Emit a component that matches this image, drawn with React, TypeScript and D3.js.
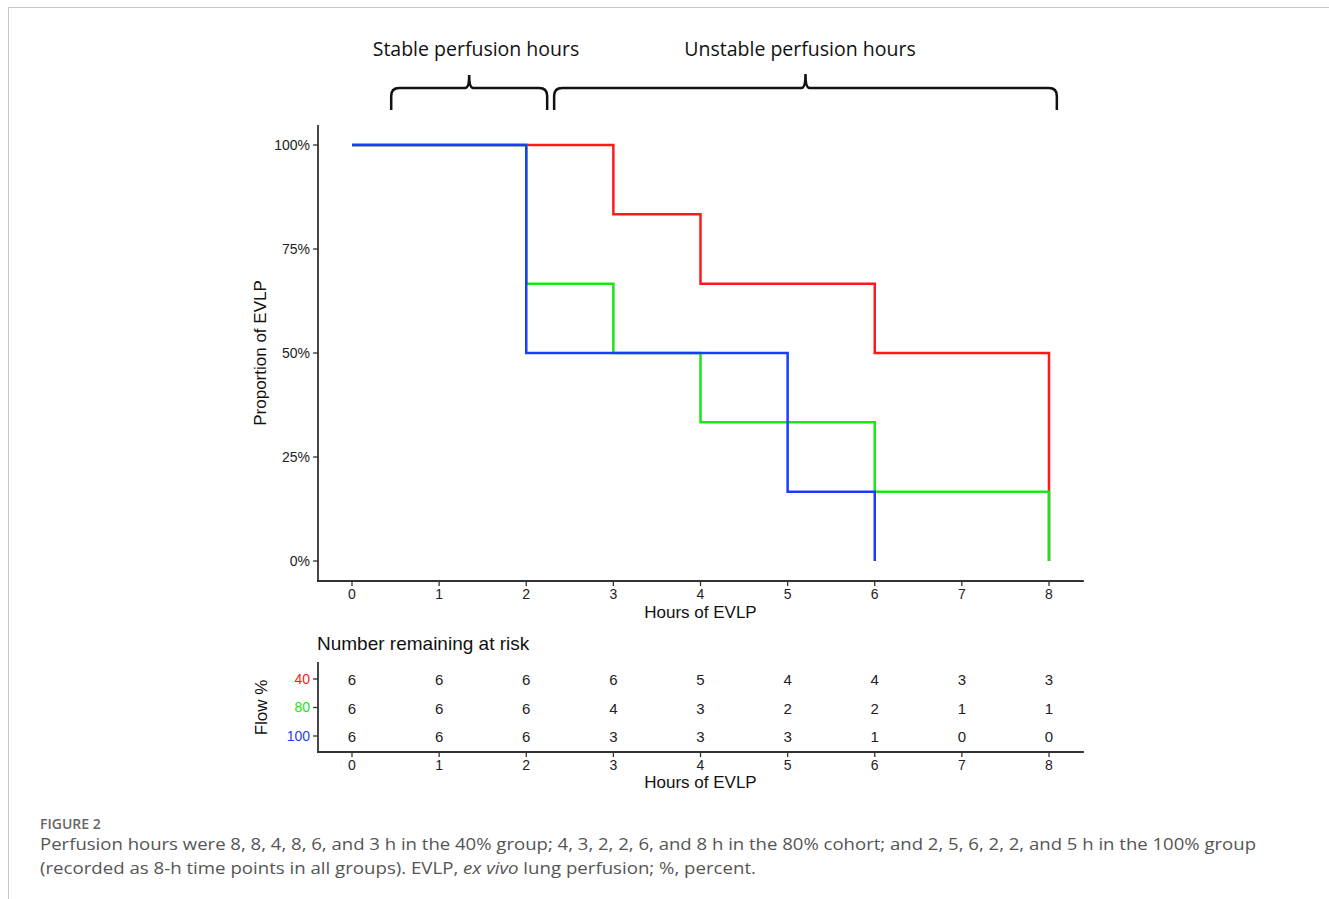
import React from "react";
import * as d3 from "d3";

const hours = [0, 1, 2, 3, 4, 5, 6, 7, 8];
const yTicks = [0, 0.25, 0.5, 0.75, 1];
const groups = ["40", "80", "100"];
const groupColors = ["#ff1a1a", "#17e617", "#1a3cff"];

// step curves: [time, survival]
const red40: [number, number][] = [[0, 1], [3, 1], [3, 5 / 6], [4, 5 / 6], [4, 4 / 6], [6, 4 / 6], [6, 3 / 6], [8, 3 / 6], [8, 0]];
const green80: [number, number][] = [[0, 1], [2, 1], [2, 4 / 6], [3, 4 / 6], [3, 3 / 6], [4, 3 / 6], [4, 2 / 6], [6, 2 / 6], [6, 1 / 6], [8, 1 / 6], [8, 0]];
const blue100: [number, number][] = [[0, 1], [2, 1], [2, 3 / 6], [5, 3 / 6], [5, 1 / 6], [6, 1 / 6], [6, 0]];

const risk40 = [6, 6, 6, 6, 5, 4, 4, 3, 3];
const risk80 = [6, 6, 6, 4, 3, 2, 2, 1, 1];
const risk100 = [6, 6, 6, 3, 3, 3, 1, 0, 0];

// bracket spans in hours
const stableSpan = [0.45, 2.24];
const unstableSpan = [2.32, 8.09];

const captionTitle = "FIGURE 2";
const captionLine1 =
  "Perfusion hours were 8, 8, 4, 8, 6, and 3 h in the 40% group; 4, 3, 2, 2, 6, and 8 h in the 80% cohort; and 2, 5, 6, 2, 2, and 5 h in the 100% group";

export default function App() {
  const x = d3.scaleLinear().domain([0, 8]).range([352, 1049]);
  const y = d3.scaleLinear().domain([0, 1]).range([561, 145]);
  const yr = d3.scalePoint<string>().domain(groups).range([679, 736]);
  const axisColor = "#333";
  const sans = "'Liberation Sans', Arial, sans-serif";
  const axR = x(8.4);
  const line = d3
    .line<[number, number]>()
    .x((d) => x(d[0]))
    .y((d) => y(d[1]));

  const curves = [
    { data: red40, color: groupColors[0] },
    { data: green80, color: groupColors[1] },
    { data: blue100, color: groupColors[2] },
  ];
  const risks = [risk40, risk80, risk100];

  const brace = (x0: number, x1: number, top: number, bottom: number, peak: number) => {
    const a = x(x0);
    const b = x(x1);
    const m = (a + b) / 2;
    const r = 8;
    return `M${a},${bottom} L${a},${top + r} Q${a},${top} ${a + r},${top} L${m - 4},${top} Q${m},${top} ${m},${peak} Q${m},${top} ${m + 4},${top} L${b - r},${top} Q${b},${top} ${b},${top + r} L${b},${bottom}`;
  };

  return (
    <svg
      width={1329}
      height={899}
      style={{ position: "absolute", left: 0, top: 0, background: "#fff" }}
    >
      <rect x={0} y={0} width={1329} height={899} fill="#fff" />
      <line x1={8} x2={1329} y1={7.5} y2={7.5} stroke="#c8c8c8" strokeWidth={1} />
      <line x1={8.5} x2={8.5} y1={7} y2={899} stroke="#c8c8c8" strokeWidth={1} />

      {/* Braces */}
      <g fontFamily="'Open Sans', sans-serif" fontSize={19.5} fill="#111" textAnchor="middle">
        <text x={476} y={56}>Stable perfusion hours</text>
        <text x={800} y={56}>Unstable perfusion hours</text>
      </g>
      <path d={brace(stableSpan[0], stableSpan[1], 88, 110, 75)} fill="none" stroke="#111" strokeWidth={2.5} />
      <path d={brace(unstableSpan[0], unstableSpan[1], 88, 110, 74)} fill="none" stroke="#111" strokeWidth={2.5} />

      {/* Main plot axes */}
      <line x1={318} x2={318} y1={125} y2={582} stroke={axisColor} strokeWidth={1.8} />
      <line x1={317} x2={axR} y1={581} y2={581} stroke={axisColor} strokeWidth={1.8} />
      {yTicks.map((t) => (
        <g key={t}>
          <line x1={313} x2={318} y1={y(t)} y2={y(t)} stroke={axisColor} strokeWidth={1.3} />
          <text x={310} y={y(t)} dy="0.35em" textAnchor="end" fontFamily={sans} fontSize={14} fill="#222">
            {d3.format(".0%")(t)}
          </text>
        </g>
      ))}
      {hours.map((h) => (
        <g key={h}>
          <line x1={x(h)} x2={x(h)} y1={581} y2={586} stroke={axisColor} strokeWidth={1.3} />
          <text x={x(h)} y={599} textAnchor="middle" fontFamily={sans} fontSize={14} fill="#222">
            {h}
          </text>
        </g>
      ))}
      <text x={x(4)} y={618} textAnchor="middle" fontFamily={sans} fontSize={17} fill="#111">
        Hours of EVLP
      </text>
      <text
        transform={`translate(266,${y(0.5)}) rotate(-90)`}
        textAnchor="middle"
        fontFamily={sans}
        fontSize={17}
        fill="#111"
      >
        Proportion of EVLP
      </text>

      {/* Curves */}
      {curves.map((c, i) => (
        <path key={i} d={line(c.data) || ""} fill="none" stroke={c.color} strokeWidth={2.5} />
      ))}

      {/* Risk table */}
      <text x={317} y={650} fontFamily={sans} fontSize={19} fill="#111">
        Number remaining at risk
      </text>
      <line x1={318} x2={318} y1={662} y2={753} stroke={axisColor} strokeWidth={1.8} />
      <line x1={317} x2={axR} y1={752} y2={752} stroke={axisColor} strokeWidth={1.8} />
      {groups.map((g, gi) => (
        <g key={g}>
          <line x1={313} x2={318} y1={yr(g)} y2={yr(g)} stroke={axisColor} strokeWidth={1.3} />
          <text x={310} y={yr(g)} dy="0.35em" textAnchor="end" fontFamily={sans} fontSize={14} fill={groupColors[gi]}>
            {g}
          </text>
          {risks[gi].map((v, hi) => (
            <text
              key={hi}
              x={x(hours[hi])}
              y={(yr(g) as number) + 1}
              dy="0.35em"
              textAnchor="middle"
              fontFamily={sans}
              fontSize={15}
              fill="#222"
            >
              {v}
            </text>
          ))}
        </g>
      ))}
      {hours.map((h) => (
        <g key={"r" + h}>
          <line x1={x(h)} x2={x(h)} y1={752} y2={757} stroke={axisColor} strokeWidth={1.3} />
          <text x={x(h)} y={770} textAnchor="middle" fontFamily={sans} fontSize={14} fill="#222">
            {h}
          </text>
        </g>
      ))}
      <text x={x(4)} y={788} textAnchor="middle" fontFamily={sans} fontSize={17} fill="#111">
        Hours of EVLP
      </text>
      <text
        transform={`translate(267,${yr("80")}) rotate(-90)`}
        textAnchor="middle"
        fontFamily={sans}
        fontSize={17}
        fill="#111"
      >
        Flow %
      </text>

      {/* Caption */}
      <text x={40} y={829} fontFamily="'Open Sans', sans-serif" fontSize={14} fontWeight={600} fill="#666">
        {captionTitle}
      </text>
      <text x={40} y={850} fontFamily="'Open Sans', sans-serif" fontSize={16.5} fill="#555" textLength={1216} lengthAdjust="spacingAndGlyphs">
        {captionLine1}
      </text>
      <text x={40} y={874} fontFamily="'Open Sans', sans-serif" fontSize={16.5} fill="#555" textLength={716} lengthAdjust="spacingAndGlyphs">
        (recorded as 8-h time points in all groups). EVLP, <tspan fontStyle="italic">ex vivo</tspan> lung perfusion; %, percent.
      </text>
    </svg>
  );
}
